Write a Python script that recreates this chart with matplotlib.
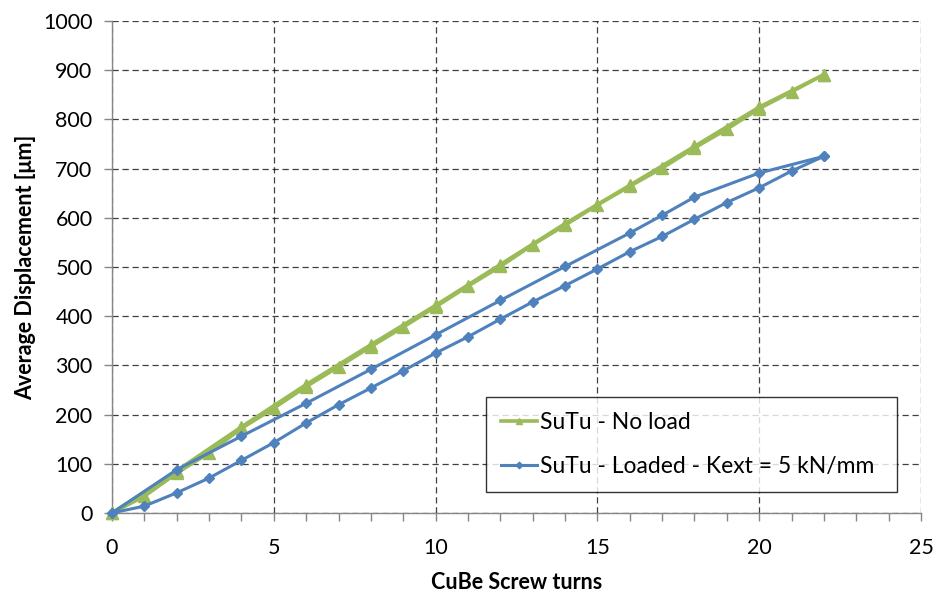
import matplotlib.pyplot as plt
from matplotlib.ticker import MultipleLocator

plt.rcParams['font.family'] = ['Lato', 'DejaVu Sans']

# SuTu without load: loading (every turn) and unloading (every second turn)
noload_up_turns = [0, 1, 2, 3, 4, 5, 6, 7, 8, 9, 10, 11, 12, 13, 14, 15, 16, 17, 18, 19, 20, 21, 22]
noload_up_disp = [0, 34, 81, 122, 172, 213, 257, 297, 338, 378, 419, 461, 501, 545, 585, 626, 664, 701, 742, 780, 822, 856, 891]
noload_down_turns = [22, 20, 18, 16, 14, 12, 10, 8, 6, 4, 2, 0]
noload_down_disp = [891, 825, 745, 666, 588, 505, 422, 342, 261, 175, 86, 0]

# SuTu loaded with Kext = 5 kN/mm
loaded_up_turns = [0, 1, 2, 3, 4, 5, 6, 7, 8, 9, 10, 11, 12, 13, 14, 15, 16, 17, 18, 19, 20, 21, 22]
loaded_up_disp = [0, 14, 41, 71, 107, 143, 183, 220, 254, 289, 325, 358, 394, 429, 462, 496, 531, 562, 597, 631, 661, 695, 725]
loaded_down_turns = [22, 20, 18, 17, 16, 14, 12, 10, 8, 6, 4, 2, 0]
loaded_down_disp = [725, 691, 642, 605, 569, 501, 432, 362, 292, 223, 156, 88, 0]

green = '#9BBB59'
blue = '#4F81BD'

fig = plt.figure(figsize=(9.35, 5.99), dpi=100)
ax = fig.add_axes([0.1198, 0.1436, 0.8652, 0.8214])

ax.plot(noload_up_turns, noload_up_disp, color=green, lw=2.6, marker='^', ms=8,
        label='SuTu - No load', zorder=3, clip_on=False)
ax.plot(noload_down_turns, noload_down_disp, color=green, lw=2.6, marker='^', ms=8,
        zorder=3, clip_on=False)
ax.plot(loaded_up_turns, loaded_up_disp, color=blue, lw=2.2, marker='D', ms=5.5,
        label='SuTu - Loaded - Kext = 5 kN/mm', zorder=4, clip_on=False)
ax.plot(loaded_down_turns, loaded_down_disp, color=blue, lw=2.2, marker='D', ms=5.5,
        zorder=4, clip_on=False)

ax.set_xlim(0, 25)
ax.set_ylim(0, 1000)
ax.xaxis.set_major_locator(MultipleLocator(5))
ax.xaxis.set_minor_locator(MultipleLocator(1))
ax.yaxis.set_major_locator(MultipleLocator(100))

ax.grid(True, which='major', color='black', linestyle=(0, (5, 3)), linewidth=0.9, alpha=0.75)
ax.set_axisbelow(True)

for side in ['top', 'right']:
    ax.spines[side].set_visible(False)
for side in ['left', 'bottom']:
    ax.spines[side].set_color('#868686')
    ax.spines[side].set_linewidth(1.0)

ax.tick_params(axis='both', which='both', direction='out', color='#868686',
               labelsize=15.5, length=6, width=1)
ax.tick_params(axis='x', pad=12)
ax.tick_params(axis='y', pad=8)

ax.set_xlabel('CuBe Screw turns', fontsize=15.5, fontweight='bold', labelpad=10)
ax.set_ylabel('Average Displacement [μm]', fontsize=15.5, fontweight='bold', labelpad=5)

leg = ax.legend(loc='lower left', bbox_to_anchor=(0.462, 0.0427, 0.508, 0.193), mode='expand',
                fontsize=16.5, frameon=True, fancybox=False, edgecolor='black',
                handlelength=1.6, handletextpad=0.1, labelspacing=1.0, borderpad=0.65,
                borderaxespad=0, markerscale=0.6)
leg.get_frame().set_linewidth(1.0)

fig.savefig('out.png', dpi=100)
